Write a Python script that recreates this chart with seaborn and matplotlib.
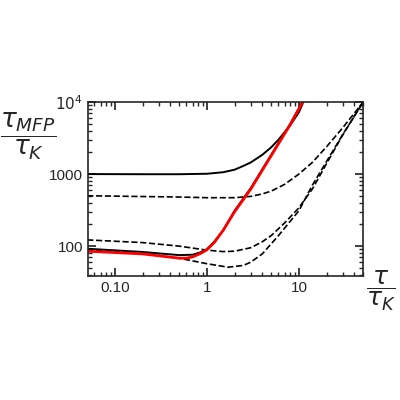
import matplotlib
matplotlib.use("Agg")
import matplotlib.pyplot as plt
import seaborn as sns
import pandas as pd

sns.set_theme(style="ticks")
plt.rcParams['font.family'] = ['Liberation Sans', 'DejaVu Sans']

s1_x = [0.05, 0.2, 0.5, 1, 1.5, 2, 2.5, 3, 4, 5, 6, 8, 10, 11]
s1_y = [1000, 995, 995, 1010, 1060, 1150, 1300, 1450, 1850, 2350, 3000, 4700, 7200, 9500]
d1_x = [0.05, 0.5, 1, 2, 3, 4, 5, 7, 10, 14, 20, 30, 50]
d1_y = [500, 480, 470, 470, 490, 530, 580, 720, 1000, 1450, 2400, 4400, 10000]
d2_x = [0.05, 0.2, 0.5, 1, 1.5, 2, 3, 4, 5, 7, 10, 14, 20, 30, 50]
d2_y = [122, 112, 100, 88, 84, 85, 95, 115, 140, 210, 340, 620, 1400, 3500, 10000]
d3_x = [0.05, 0.2, 0.5, 1, 1.7, 2.5, 3, 4, 6, 10, 14, 20, 30, 50]
d3_y = [88, 80, 68, 57, 51, 54, 60, 78, 140, 310, 700, 1500, 3550, 10000]
s2_x = [0.05, 0.2, 0.5, 0.7, 0.85, 1, 1.2, 1.5, 2, 3, 5, 8, 11]
s2_y = [92, 83, 75, 76, 82, 91, 115, 165, 310, 640, 1850, 4900, 10200]
r_x = [0.05, 0.2, 0.5, 0.6, 0.7, 0.85, 1, 1.2, 1.5, 2, 3, 5, 8, 11]
r_y = [85, 78, 68, 68, 71, 79, 89, 112, 165, 300, 620, 1800, 4800, 10000]

fig = plt.figure(figsize=(4, 4), dpi=100)
ax = fig.add_axes([0.22, 0.31, 0.688, 0.435])

def draw(x, y, **kw):
    sns.lineplot(data=pd.DataFrame({"x": x, "y": y}), x="x", y="y", ax=ax, **kw)

draw(s1_x, s1_y, color="black", lw=1.4)
draw(d1_x, d1_y, color="black", lw=1.2, linestyle="--")
draw(d2_x, d2_y, color="black", lw=1.2, linestyle="--")
draw(d3_x, d3_y, color="black", lw=1.2, linestyle="--")
draw(s2_x, s2_y, color="black", lw=1.4)
draw(r_x, r_y, color="red", lw=2.0)

ax.set_xscale("log"); ax.set_yscale("log")
ax.set_xlim(0.051, 50); ax.set_ylim(38.5, 10000)
ax.set_xticks([0.1, 1, 10]); ax.set_xticklabels(["0.10", "1", "10"])
ax.set_yticks([100, 1000, 10000]); ax.set_yticklabels(["100", "1000", r"$10^4$"])
ax.tick_params(which="both", direction="in", top=True, right=True, labelsize=11)
ax.tick_params(which="major", length=6)
ax.tick_params(which="minor", length=3)
for sp in ax.spines.values():
    sp.set_linewidth(1.2)
ax.set_xlabel(""); ax.set_ylabel("")

fig.text(0.0, 0.64, r"$\dfrac{\tau_{MFP}}{\tau_K}$", fontsize=19, ha="left")
fig.text(0.915, 0.26, r"$\dfrac{\tau}{\tau_K}$", fontsize=18, ha="left")

fig.savefig("out.png", dpi=100)
